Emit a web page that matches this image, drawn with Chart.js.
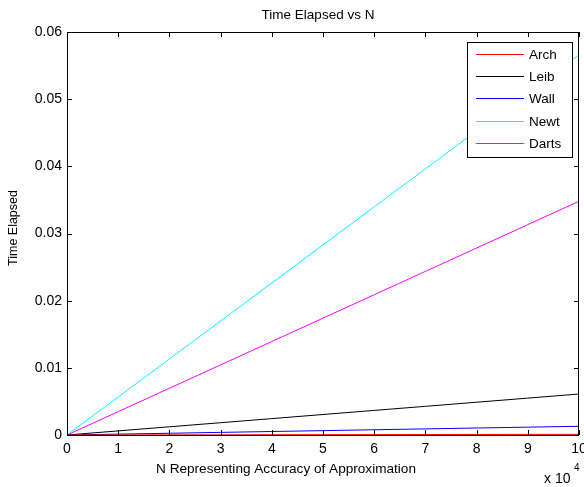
<!DOCTYPE html>
<html>
<head>
<meta charset="utf-8">
<script src="https://cdn.jsdelivr.net/npm/chart.js@4/dist/chart.umd.min.js"></script>
<style>
  html, body { margin: 0; padding: 0; background: #fff; }
  #wrap { position: relative; width: 584px; height: 487px; }
</style>
</head>
<body>
<div id="wrap"><canvas id="c" width="584" height="487"></canvas></div>
<script>
// ── data ───────────────────────────────────────────────────────────────────
const nValues = [0, 10000, 20000, 30000, 40000, 50000, 60000, 70000, 80000, 90000, 100000];
const archTimes  = [0, 0.00001, 0.00002, 0.00003, 0.00004, 0.00005, 0.00006, 0.00007, 0.00008, 0.00009, 0.0001];
const leibTimes  = [0, 0.00061, 0.00122, 0.00183, 0.00244, 0.00305, 0.00366, 0.00427, 0.00488, 0.00549, 0.0061];
const wallTimes  = [0, 0.00013, 0.00026, 0.00039, 0.00052, 0.00065, 0.00078, 0.00091, 0.00104, 0.00117, 0.0013];
const newtTimes  = [0, 0.00566, 0.01132, 0.01698, 0.02264, 0.0283, 0.03396, 0.03962, 0.04528, 0.05094, 0.0566];
const dartsTimes = [0, 0.00348, 0.00696, 0.01044, 0.01392, 0.0174, 0.02088, 0.02436, 0.02784, 0.03132, 0.0348];
const seriesNames = ["Arch", "Leib", "Wall", "Newt", "Darts"];
const seriesColors = ["#ff0000", "#000000", "#0000ff", "#00ffff", "#ff00ff"];
const yTicks = [0, 0.01, 0.02, 0.03, 0.04, 0.05, 0.06];

const FONT = "'Liberation Sans', Arial, sans-serif";
const allSeries = [archTimes, leibTimes, wallTimes, newtTimes, dartsTimes];

// MATLAB-ish frame: box, inward ticks on all four sides, titles, legend
const matlabFrame = {
  id: "matlabFrame",
  afterDraw(chart) {
    const { ctx, chartArea: a, scales } = chart;
    ctx.save();
    ctx.strokeStyle = "#000";
    ctx.lineWidth = 1;
    ctx.strokeRect(a.left + 0.5, a.top + 0.5, a.right - a.left - 1, a.bottom - a.top);
    const tl = 5;
    ctx.beginPath();
    scales.x.ticks.forEach((t, i) => {
      const px = Math.round(scales.x.getPixelForTick(i)) + 0.5;
      ctx.moveTo(px, a.bottom); ctx.lineTo(px, a.bottom - tl);
      ctx.moveTo(px, a.top); ctx.lineTo(px, a.top + tl);
    });
    scales.y.ticks.forEach((t, i) => {
      const py = Math.round(scales.y.getPixelForTick(i)) + 0.5;
      ctx.moveTo(a.left, py); ctx.lineTo(a.left + tl, py);
      ctx.moveTo(a.right, py); ctx.lineTo(a.right - tl, py);
    });
    ctx.stroke();

    // titles
    ctx.fillStyle = "#000";
    ctx.font = "13.5px " + FONT;
    ctx.textAlign = "center";
    ctx.textBaseline = "middle";
    ctx.fillText("Time Elapsed vs N", 318, 15);
    ctx.font = "13.6px " + FONT;
    ctx.fillText("N Representing Accuracy of Approximation", 286, 469);
    ctx.save();
    ctx.translate(14, 228);
    ctx.rotate(-Math.PI / 2);
    ctx.font = "12.5px " + FONT;
    ctx.fillText("Time Elapsed", 0, 0);
    ctx.restore();
    // exponent label
    ctx.textAlign = "left";
    ctx.font = "14px " + FONT;
    ctx.fillText("x 10", 544, 479);
    ctx.font = "10px " + FONT;
    ctx.fillText("4", 574, 468);

    // legend
    const lx = 467, ly = 42, lw = 105, lh = 115;
    ctx.fillStyle = "#fff";
    ctx.fillRect(lx, ly, lw, lh);
    ctx.strokeStyle = "#000";
    ctx.lineWidth = 1;
    ctx.strokeRect(lx + 0.5, ly + 0.5, lw, lh);
    ctx.font = "13.5px " + FONT;
    ctx.textBaseline = "middle";
    chart.data.datasets.forEach((ds, i) => {
      const y = Math.round(ly + 12 + i * 22.2);
      ctx.strokeStyle = seriesColors[i];
      ctx.beginPath();
      ctx.moveTo(lx + 9, y + 0.5); ctx.lineTo(lx + 57, y + 0.5);
      ctx.stroke();
      ctx.fillStyle = "#000";
      ctx.fillText(ds.label, lx + 62, y + 1);
    });
    ctx.restore();
  }
};

new Chart(document.getElementById("c"), {
  type: "line",
  data: {
    datasets: seriesNames.map((name, i) => ({
      label: name,
      data: nValues.map((n, j) => ({ x: n, y: allSeries[i][j] })),
      borderColor: seriesColors[i],
      borderWidth: 1,
      pointRadius: 0,
      tension: 0,
      fill: false,
    })),
  },
  options: {
    responsive: false,
    animation: false,
    parsing: false,
    layout: { autoPadding: false, padding: { top: 32, right: 5, left: 0, bottom: 0 } },
    scales: {
      x: {
        type: "linear", min: 0, max: 100000,
        grid: { display: false, drawTicks: false },
        border: { display: false },
        afterFit: (s) => { s.height = 52; s.paddingLeft = 0; s.paddingRight = 0; },
        ticks: { stepSize: 10000, padding: 6, color: "#000", font: { family: FONT, size: 14 },
          maxRotation: 0, autoSkip: false, callback: (v) => String(v / 10000) },
      },
      y: {
        min: 0, max: 0.06,
        afterBuildTicks: (s) => { s.ticks = yTicks.map((v) => ({ value: v })); },
        afterFit: (s) => { s.width = 67; s.paddingTop = 0; s.paddingBottom = 0; },
        grid: { display: false, drawTicks: false },
        border: { display: false },
        ticks: { padding: 5, color: "#000", font: { family: FONT, size: 14 },
          callback: (v) => (v === 0 ? "0" : v.toFixed(2)) },
      },
    },
    plugins: { legend: { display: false }, tooltip: { enabled: false } },
  },
  plugins: [matlabFrame],
});
</script>
</body>
</html>
